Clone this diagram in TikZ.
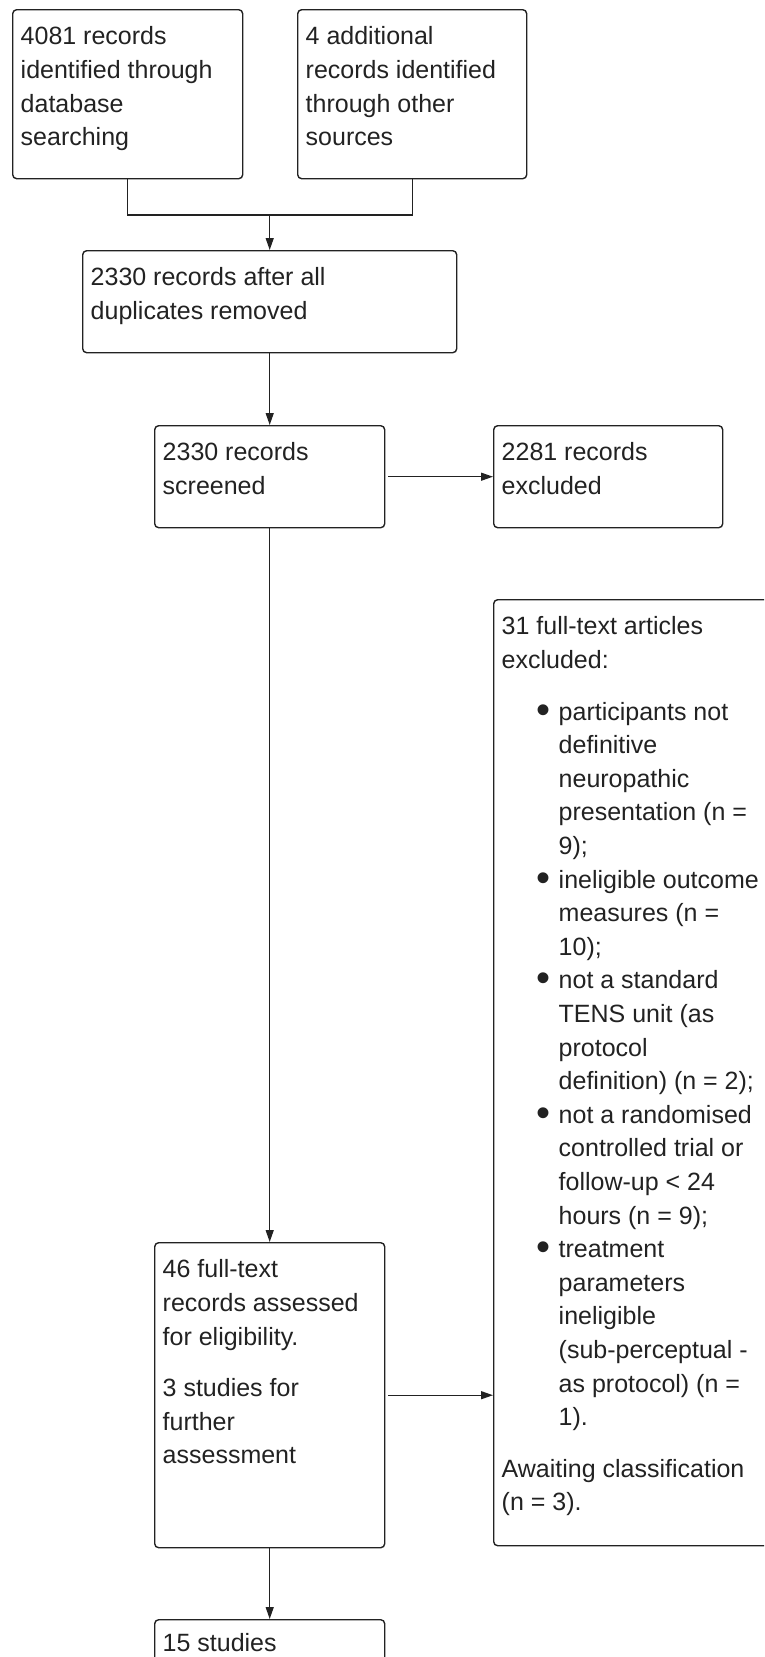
\documentclass[tikz,border=0pt]{standalone}
\usepackage{fontspec}
\setmainfont{Liberation Sans}
\usetikzlibrary{arrows.meta}

\definecolor{inkgray}{HTML}{222222}
\newcommand\boxpad{17pt}
\newcommand\pargap{18pt}
\newcommand\boxtext[3]{\begin{minipage}[t][#2][t]{#1}\parskip=0pt\vspace*{\boxpad}#3\end{minipage}}
\newcommand\bulletmark{\raisebox{-3pt}{\fontsize{40}{40}\selectfont\textbullet}}
\newcommand\bitem[1]{\par\hspace*{57pt}\llap{\bulletmark\hspace{8pt}}#1\par}
\newcommand\bcont[1]{\par\hspace*{57pt}#1\par}

\tikzset{
  flowbox/.style={draw, line width=1.4pt, rounded corners=4pt, anchor=north west,
    inner xsep=8pt, inner ysep=0pt},
  link/.style={line width=1.4pt},
  arr/.style={link, -{Triangle[length=12pt,width=8pt]}}
}

\begin{document}
\begin{tikzpicture}[x=1pt, y=-1pt, color=inkgray, font=\fontsize{25}{33.6}\selectfont]
  \clip (0,0) rectangle (764,1657);
  \node[flowbox] (dbrec) at (12,9)
    {\boxtext{214pt}{169pt}{4081 records\\identified through\\database\\searching}};
  \node[flowbox] (otherrec) at (297,9)
    {\boxtext{213pt}{169pt}{4 additional\\records identified\\through other\\sources}};
  \node[flowbox] (dedup) at (82,250)
    {\boxtext{358pt}{102pt}{2330 records after all\\duplicates removed}};
  \node[flowbox] (screened) at (154,425)
    {\boxtext{214pt}{102pt}{2330 records\\screened}};
  \node[flowbox] (screenexcl) at (493,425)
    {\boxtext{213pt}{102pt}{2281 records\\excluded}};
  \node[flowbox] (ftexcl) at (493,599)
    {\boxtext{274pt}{946pt}{31 full-text articles\\excluded:\par\vspace{\pargap}
      \bitem{participants not}
      \bcont{definitive}
      \bcont{neuropathic}
      \bcont{presentation (n =}
      \bcont{9);}
      \bitem{ineligible outcome}
      \bcont{measures (n =}
      \bcont{10);}
      \bitem{not a standard}
      \bcont{TENS unit (as}
      \bcont{protocol}
      \bcont{definition) (n = 2);}
      \bitem{not a randomised}
      \bcont{controlled trial or}
      \bcont{follow-up < 24}
      \bcont{hours (n = 9);}
      \bitem{treatment}
      \bcont{parameters}
      \bcont{ineligible}
      \bcont{(sub-perceptual -}
      \bcont{as protocol) (n =}
      \bcont{1).}
      \vspace{\pargap}
      Awaiting classification\\(n = 3).}};
  \node[flowbox] (fulltext) at (154,1242)
    {\boxtext{214pt}{305pt}{46 full-text\\records assessed\\for eligibility.\par\vspace{\pargap}
      3 studies for\\further\\assessment}};
  \node[flowbox] (included) at (154,1619)
    {\boxtext{214pt}{80pt}{\vspace*{-3pt}15 studies}};

  \path (dedup.north) ++(0,-35) coordinate (merge);
  \draw[link] (dbrec.south) |- (merge) -| (otherrec.south);
  \draw[arr] (merge) -- (dedup.north);
  \draw[arr] (dedup.south) -- (screened.north);
  \draw[arr, shorten <=3pt] (screened.east) -- (screenexcl.west);
  \draw[arr] (screened.south) -- (fulltext.north);
  \draw[arr, shorten <=3pt] (fulltext.east) -- (fulltext.east -| ftexcl.west);
  \draw[arr] (fulltext.south) -- (included.north);
\end{tikzpicture}
\end{document}
